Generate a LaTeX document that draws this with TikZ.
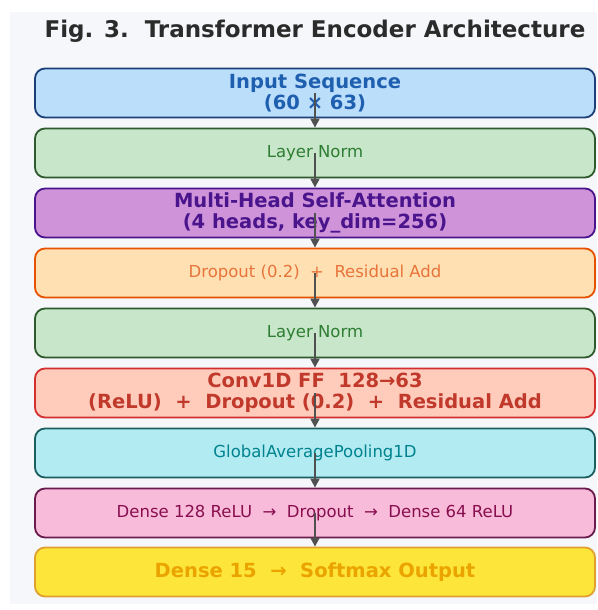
\documentclass[tikz,border=0pt]{standalone}
\usepackage{fontspec}
\setmainfont{DejaVu Sans}
\usetikzlibrary{arrows.meta}
\definecolor{bgc}{HTML}{F5F7FA}
\definecolor{titlec}{HTML}{2B2B2B}
\definecolor{arrc}{HTML}{505050}
\definecolor{f1}{HTML}{BBDEFB}\definecolor{d1}{HTML}{1C3F7A}\definecolor{t1}{HTML}{1F5FAF}
\definecolor{f2}{HTML}{C8E6C9}\definecolor{d2}{HTML}{2E5A2E}\definecolor{t2}{HTML}{2E7D32}
\definecolor{f3}{HTML}{CE93D8}\definecolor{d3}{HTML}{4A148C}\definecolor{t3}{HTML}{4A148C}
\definecolor{f4}{HTML}{FFE0B2}\definecolor{d4}{HTML}{E65100}\definecolor{t4}{HTML}{E8743B}
\definecolor{f6}{HTML}{FFCCBC}\definecolor{d6}{HTML}{D32F2F}\definecolor{t6}{HTML}{C0392B}
\definecolor{f7}{HTML}{B2EBF2}\definecolor{d7}{HTML}{1B5E60}\definecolor{t7}{HTML}{00838F}
\definecolor{f8}{HTML}{F8BBD9}\definecolor{d8}{HTML}{6A1B4D}\definecolor{t8}{HTML}{880E4F}
\definecolor{f9}{HTML}{FDE53A}\definecolor{d9}{HTML}{E0A030}\definecolor{t9}{HTML}{EBA300}
\tikzset{
  box/.style={rounded corners=10pt, line width=1.8pt, minimum width=560pt, minimum height=49pt, align=center, inner sep=0pt},
  bigtxt/.style={font=\fontsize{19.5}{20.5}\selectfont\bfseries},
  smalltxt/.style={font=\fontsize{16.5}{18}\selectfont},
  arr/.style={line width=2pt, draw=arrc, -{Triangle[length=9pt,width=9pt]}, arrc},
  titlestyle/.style={font=\fontsize{23}{26}\selectfont\bfseries, text=titlec}
}
\begin{document}
\begin{tikzpicture}[x=1pt,y=-1pt]
\useasboundingbox (0,0) rectangle (597,610);
\fill[bgc] (10,12) rectangle (597,604);
\node[titlestyle] (title) at (315,31) {Fig. 3.\ \ Transformer Encoder Architecture};
\node[box, fill=f1, draw=d1, text=t1, bigtxt] (b1) at (315,93) {Input Sequence\\(60 × 63)};
\node[box, fill=f2, draw=d2, text=t2, smalltxt] (b2) at (315,153) {Layer Norm};
\node[box, fill=f3, draw=d3, text=t3, bigtxt] (b3) at (315,213) {Multi-Head Self-Attention\\(4 heads, key\_dim=256)};
\node[box, fill=f4, draw=d4, text=t4, smalltxt] (b4) at (315,273) {Dropout (0.2)~~+~~Residual Add};
\node[box, fill=f2, draw=d2, text=t2, smalltxt] (b5) at (315,333) {Layer Norm};
\node[box, fill=f6, draw=d6, text=t6, bigtxt] (b6) at (315,393) {Conv1D FF~~128→63\\(ReLU)~~+~~Dropout (0.2)~~+~~Residual Add};
\node[box, fill=f7, draw=d7, text=t7, smalltxt] (b7) at (315,453) {GlobalAveragePooling1D};
\node[box, fill=f8, draw=d8, text=t8, smalltxt] (b8) at (315,513) {Dense 128 ReLU~~→~~Dropout~~→~~Dense 64 ReLU};
\node[box, fill=f9, draw=d9, text=t9, bigtxt] (b9) at (315,572) {Dense 15~~→~~Softmax Output};
\foreach \a/\b in {b1/b2,b2/b3,b3/b4,b4/b5,b5/b6,b6/b7,b7/b8,b8/b9}
  \draw[arr] (\a.center) -- (\b.north);
\end{tikzpicture}
\end{document}
